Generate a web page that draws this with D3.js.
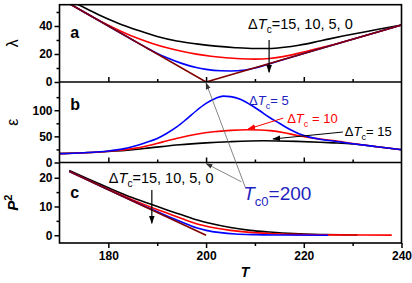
<!DOCTYPE html>
<html>
<head>
<meta charset="utf-8">
<script src="https://cdn.jsdelivr.net/npm/d3@7"></script>
<style>
  body { margin: 0; background: #fff; }
  svg { display: block; font-family: Arial, "Liberation Sans", sans-serif; }
  .tick text { font-weight: bold; font-size: 12px; fill: #000; }
</style>
</head>
<body>
<script>
var w = 412;
var h = 283;

// shared temperature axis
var tDomain = [170, 240];
var tMajor = [180, 200, 220, 240];
var tMinor = [190, 210, 230];

// panel a: lambda vs T, for dTc = 15, 10, 5, 0
var lam15 = [[170,62],[174,55],[178,48],[182,42],[186,37],[190,32.5],[194,29.3],[198,27.2],[202,25.6],[206,24.5],[210,23.9],[213,23.9],[216,24.8],[219,26.3],[222,28.3],[225,30.6],[228,32.8],[231,34.8],[235,37.5],[240,40.7]];
var lam10 = [[170,60],[175,50],[178,44.2],[180,40.6],[183,35.6],[186,31.2],[189,27.5],[192,24.4],[195,21.9],[198,19.9],[201,18.4],[204,17.3],[207,16.6],[210,16.3],[213,16.8],[216,18.3],[219,20.6],[222,23.2],[226,26.6],[230,30.6],[235,35.6],[240,40.7]];
var lam5 = [[170,60],[180,40],[185,30],[188,24.1],[190,20.4],[192,17.3],[195,13.3],[198,10.3],[200,9],[203,8],[205,7.9],[208,8.6],[210,10],[212,11.9],[215,15.1],[220,20.3],[240,40.7]];
var lam0 = [[170,60],[200,0],[240,40.7]];

// panel b: epsilon vs T, for dTc = 15, 10, 5
var eps15 = [[170,17],[175,18.6],[180,21],[185,24.5],[188.5,28],[194.6,34],[200,37.5],[204.8,39.7],[211.7,41.5],[218.5,40.4],[223.3,38.8],[226,37.6],[230,35.4],[235,30.2],[240,24.5]];
var eps10 = [[170,17],[175,18.6],[180,21.5],[185,26.5],[188.5,33],[191,39],[194.6,47.5],[198,54],[201.5,58.8],[205,61.5],[208.3,62.6],[211,62.3],[213.1,61],[216,57],[218.5,52],[221,47.8],[223.3,45],[226,42],[230,36.5],[235,30.2],[240,24.5]];
var eps5 = [[170,17],[175,18.7],[180,22],[183,26],[186,33],[188,39],[190,46],[192,56],[194,68],[196,83],[198,99],[200,113],[202,123],[203.5,127],[205,126],[207,121],[209,111],[211,99],[213,86],[215,75],[217,64],[219,55],[221,49],[223,45],[226,41],[230,36],[235,30.2],[240,24.5]];

// panel c: P^2 vs T, for dTc = 15, 10, 5, 0
var p15 = [[172,22.5],[180,16.5],[185,13],[189,10.6],[192,8.8],[195,7.1],[198,5.4],[201,4.1],[205,2.7],[209,1.7],[213,1.1],[218,0.55],[224,0.25],[231,0.1]];
var p10 = [[172,22.3],[180,16],[185,12.3],[189,9.6],[192,7.7],[195,5.8],[198,4],[201,2.8],[205,1.7],[209,1],[213,0.6],[218,0.3],[225,0.12],[238,0.05]];
var p5 = [[172,22.2],[180,15.8],[185,11.9],[189,8.9],[192,6.7],[195,4.6],[198,2.6],[200,1.7],[203,0.9],[206,0.45],[210,0.2],[215,0.08],[225,0]];
var p0 = [[172,22.2],[200,0]];

var colors = { d15: "#000000", d10: "#ff0000", d5: "#0000ff", d0: "#800000" };

var svg = d3.select("body").append("svg")
    .attr("width", w)
    .attr("height", h);

var x = d3.scaleLinear().domain(tDomain).range([59.5, 401.5]);

var panels = [
  { id: "a", y: d3.scaleLinear().domain([0, 55.2]).range([82, 4.7]),
    major: [0, 20, 40], minor: [10, 30, 50], label: "λ",
    series: [[lam15, colors.d15], [lam10, colors.d10], [lam5, colors.d5], [lam0, colors.d0, true]] },
  { id: "b", y: d3.scaleLinear().domain([0, 154]).range([162.5, 82]),
    major: [0, 50, 100], minor: [25, 75, 125], label: "ε",
    series: [[eps15, colors.d15], [eps10, colors.d10], [eps5, colors.d5]] },
  { id: "c", y: d3.scaleLinear().domain([-2.7, 25.3]).range([243, 162.5]),
    major: [0, 10, 20], minor: [5, 15], label: "P",
    series: [[p15, colors.d15], [p10, colors.d10], [p5, colors.d5], [p0, colors.d0, true]] }
];

var defs = svg.append("defs");
function marker(id, col, size) {
  defs.append("marker")
      .attr("id", id)
      .attr("viewBox", "0 0 10 10")
      .attr("refX", 9).attr("refY", 5)
      .attr("markerWidth", size).attr("markerHeight", size)
      .attr("markerUnits", "userSpaceOnUse")
      .attr("orient", "auto")
    .append("path")
      .attr("d", "M0,1.5L10,5L0,8.5Z")
      .attr("fill", col);
}
marker("arrBlack", "#000", 8);
marker("arrRed", "#ff0000", 8);
marker("arrGray", "#333", 7);

panels.forEach(function (p) {
  var r = p.y.range();
  defs.append("clipPath").attr("id", "clip-" + p.id)
    .append("rect")
      .attr("x", x.range()[0]).attr("y", r[1])
      .attr("width", x.range()[1] - x.range()[0])
      .attr("height", r[0] - r[1]);

  var g = svg.append("g");

  // curves
  var lines = g.append("g").attr("clip-path", "url(#clip-" + p.id + ")");
  p.series.forEach(function (s) {
    var line = d3.line()
        .x(function (d) { return x(d[0]); })
        .y(function (d) { return p.y(d[1]); })
        .curve(s[2] ? d3.curveLinear : d3.curveMonotoneX);
    lines.append("path")
        .datum(s[0])
        .attr("d", line)
        .attr("fill", "none")
        .attr("stroke", s[1])
        .attr("stroke-width", 1.6);
  });

  // left axis, major and minor ticks outward
  g.append("g")
      .attr("transform", "translate(" + x.range()[0] + ",0)")
      .call(d3.axisLeft(p.y).tickValues(p.major).tickSize(5).tickPadding(2))
      .call(function (a) { a.select(".domain").remove(); a.selectAll("line").attr("stroke-width", 1.5); });
  g.append("g")
      .attr("transform", "translate(" + x.range()[0] + ",0)")
      .call(d3.axisLeft(p.y).tickValues(p.minor).tickSize(3).tickFormat(""))
      .call(function (a) { a.select(".domain").remove(); a.selectAll("line").attr("stroke-width", 1.5); });

  // bottom ticks: inward for a and b, outward for c
  if (p.id !== "c") {
    g.append("g")
        .attr("transform", "translate(0," + r[0] + ")")
        .call(d3.axisTop(x).tickValues([180, 200, 220]).tickSize(5).tickFormat(""))
        .call(function (a) { a.select(".domain").remove(); a.selectAll("line").attr("stroke-width", 1.5); });
    g.append("g")
        .attr("transform", "translate(0," + r[0] + ")")
        .call(d3.axisTop(x).tickValues(tMinor).tickSize(3).tickFormat(""))
        .call(function (a) { a.select(".domain").remove(); a.selectAll("line").attr("stroke-width", 1.5); });
  } else {
    g.append("g")
        .attr("transform", "translate(0," + r[0] + ")")
        .call(d3.axisBottom(x).tickValues(tMajor).tickSize(5).tickPadding(3))
        .call(function (a) { a.select(".domain").remove(); a.selectAll("line").attr("stroke-width", 1.5); });
    g.append("g")
        .attr("transform", "translate(0," + r[0] + ")")
        .call(d3.axisBottom(x).tickValues(tMinor).tickSize(3).tickFormat(""))
        .call(function (a) { a.select(".domain").remove(); a.selectAll("line").attr("stroke-width", 1.5); });
  }

  // panel letter
  g.append("text")
      .attr("x", x(172.2))
      .attr("y", r[1] + (p.id === "a" ? 33 : p.id === "b" ? 28 : 35))
      .attr("font-size", 16).attr("font-weight", "bold")
      .text(p.id);

  // y title, rotated
  var yt = g.append("text")
      .attr("transform", "translate(18," + ((r[0] + r[1]) / 2 - (p.id === "c" ? 0 : 0)) + ") rotate(-90)")
      .attr("text-anchor", "middle")
      .attr("font-size", 15).attr("font-weight", "bold");
  if (p.id === "c") {
    yt.append("tspan").attr("font-style", "italic").text("P");
    yt.append("tspan").attr("dy", -6).attr("font-size", 11).text("2");
  } else {
    yt.attr("font-weight", "normal").attr("font-size", 16).text(p.label);
  }
});

// frame and panel dividers
svg.append("rect")
    .attr("x", x.range()[0]).attr("y", panels[0].y.range()[1])
    .attr("width", x.range()[1] - x.range()[0])
    .attr("height", panels[2].y.range()[0] - panels[0].y.range()[1])
    .attr("fill", "none").attr("stroke", "#000").attr("stroke-width", 1.6);
[panels[0].y.range()[0], panels[1].y.range()[0]].forEach(function (yy) {
  svg.append("line")
      .attr("x1", x.range()[0]).attr("x2", x.range()[1])
      .attr("y1", yy).attr("y2", yy)
      .attr("stroke", "#000").attr("stroke-width", 1.6);
});

// x title
svg.append("text")
    .attr("x", 245).attr("y", 277)
    .attr("text-anchor", "middle")
    .attr("font-size", 14).attr("font-weight", "bold").attr("font-style", "italic")
    .text("T");

// label with Delta T_c
function dLabel(px, py, size, col, rest) {
  var t = svg.append("text")
      .attr("x", px).attr("y", py)
      .attr("font-size", size).attr("fill", col);
  t.append("tspan").text("Δ");
  t.append("tspan").attr("font-style", "italic").text("T");
  t.append("tspan").attr("dy", 4).attr("font-size", size * 0.7).text("c");
  t.append("tspan").attr("dy", -4).text(rest);
  return t;
}

var ya = panels[0].y, yb = panels[1].y, yc = panels[2].y;

// panel a annotation
dLabel(x(208.6), ya(37.9), 14.5, "#000", "=15, 10, 5, 0");
svg.append("line")
    .attr("x1", x(212.9)).attr("x2", x(212.9))
    .attr("y1", ya(30)).attr("y2", ya(7))
    .attr("stroke", "#000").attr("stroke-width", 1.2)
    .attr("marker-end", "url(#arrBlack)");

// panel c annotation
dLabel(x(180.1), yc(18.2), 14.5, "#000", "=15, 10, 5, 0");
svg.append("line")
    .attr("x1", x(188.9)).attr("x2", x(188.9))
    .attr("y1", yc(15.7)).attr("y2", yc(4.2))
    .attr("stroke", "#000").attr("stroke-width", 1.2)
    .attr("marker-end", "url(#arrBlack)");

// panel b annotations
dLabel(x(208.8), yb(110), 13, "#1f1fc0", "= 5");
dLabel(x(216.6), yb(75.6), 13, "#ff0000", " = 10");
svg.append("line")
    .attr("x1", x(215.8)).attr("y1", yb(85))
    .attr("x2", x(208.6)).attr("y2", yb(64))
    .attr("stroke", "#ff0000").attr("stroke-width", 1)
    .attr("marker-end", "url(#arrRed)");
dLabel(x(228.4), yb(50.7), 13, "#000", "= 15");
svg.append("line")
    .attr("x1", x(228)).attr("y1", yb(58.3))
    .attr("x2", x(213.7)).attr("y2", yb(45))
    .attr("stroke", "#000").attr("stroke-width", 1)
    .attr("marker-end", "url(#arrBlack)");

// Tc0 label and pointers to T = 200
svg.append("line")
    .attr("x1", x(208)).attr("y1", yc(16.8))
    .attr("x2", x(200)).attr("y2", ya(0) + 1)
    .attr("stroke", "#666").attr("stroke-width", 0.8)
    .attr("marker-end", "url(#arrGray)");
svg.append("line")
    .attr("x1", x(207.2)).attr("y1", yc(18.6))
    .attr("x2", x(200)).attr("y2", yb(0) + 1)
    .attr("stroke", "#666").attr("stroke-width", 0.8)
    .attr("marker-end", "url(#arrGray)");
var tc = svg.append("text")
    .attr("x", x(207.6)).attr("y", yc(12.2))
    .attr("font-size", 19).attr("fill", "#1f1fc0");
tc.append("tspan").attr("font-style", "italic").text("T");
tc.append("tspan").attr("dy", 6).attr("font-size", 13).text("c0");
tc.append("tspan").attr("dy", -6).text("=200");
</script>
</body>
</html>
